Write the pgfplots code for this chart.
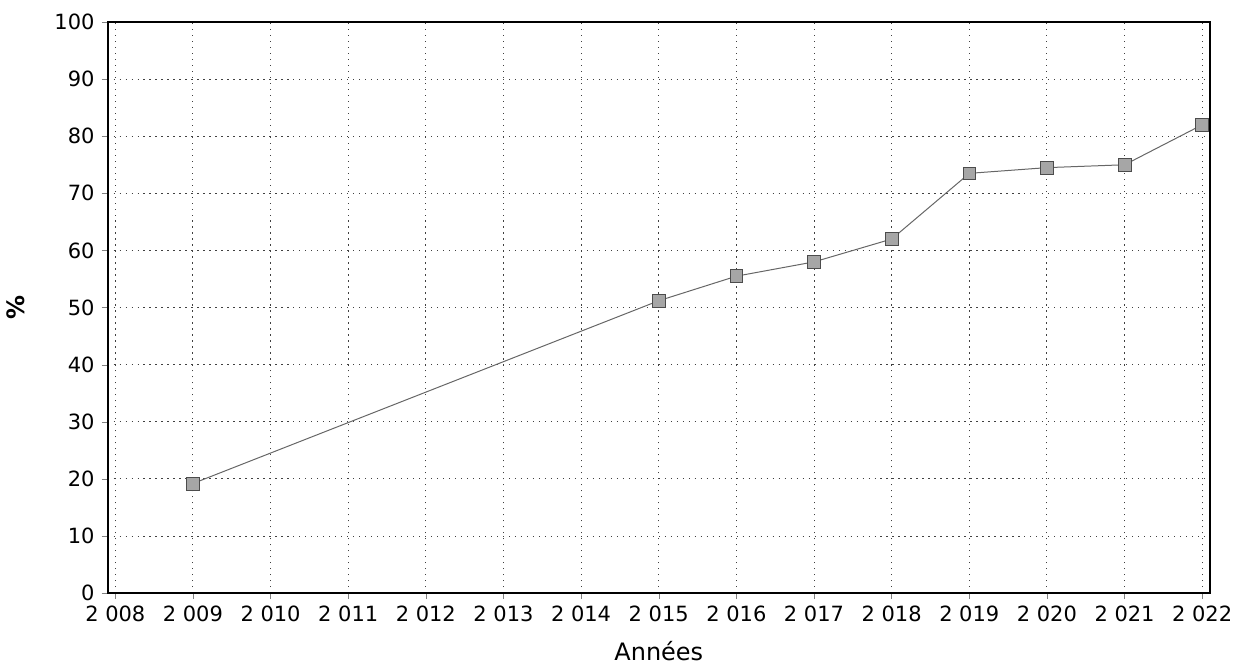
\documentclass[border=0pt]{standalone}
\usepackage{pgfplots}
\pgfplotsset{compat=1.18}
\usepackage{fontspec}
\setmainfont{DejaVu Sans}
\usetikzlibrary{calc}

\begin{document}
\begin{tikzpicture}
\begin{axis}[
    scale only axis,
    width=552pt,
    height=286pt,
    xmin=2007.9, xmax=2022.1,
    ymin=0, ymax=100,
    xtick={2008,...,2022},
    xticklabels={2 008,2 009,2 010,2 011,2 012,2 013,2 014,2 015,2 016,2 017,2 018,2 019,2 020,2 021,2 022},
    ytick={0,10,...,100},
    /pgf/number format/assume math mode=true,
    tick label style={font=\fontsize{10.5}{12}\selectfont},
    xlabel={Années},
    ylabel={\textbf{\%}},
    label style={font=\fontsize{12}{14}\selectfont},
    xlabel style={yshift=-3pt},
    ylabel style={yshift=8pt},
    tick align=outside,
    major tick length=3pt,
    xtick pos=bottom, ytick pos=left,
    axis line style={black, line width=1pt},
    xmajorgrids, ymajorgrids,
    grid style={black!75, dash pattern=on 0.6pt off 2.4pt, line width=0.5pt},
]
\addplot[gray!80!black, line width=0.5pt, mark=square*,
    mark size=3.2pt, mark options={fill=gray!70, draw=black!70, line width=0.4pt}]
coordinates {
    (2009, 19.2)(2015, 51.2)(2016, 55.5)(2017, 58.0)(2018, 62.0)
    (2019, 73.5)(2020, 74.5)(2021, 75.0)(2022, 82.0)
};
\end{axis}
\path[use as bounding box] ($(current axis.south west)+(-52.5pt,-38pt)$) rectangle ($(current axis.north east)+(15.5pt,11pt)$);
\end{tikzpicture}
\end{document}
